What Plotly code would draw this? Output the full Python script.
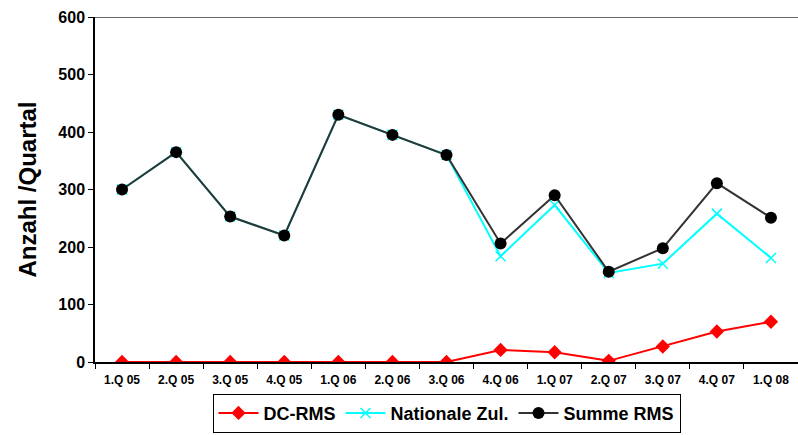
import plotly.graph_objects as go

categories = ["1.Q 05", "2.Q 05", "3.Q 05", "4.Q 05", "1.Q 06", "2.Q 06", "3.Q 06",
              "4.Q 06", "1.Q 07", "2.Q 07", "3.Q 07", "4.Q 07", "1.Q 08"]
dc_rms = [0, 0, 0, 0, 0, 0, 0, 21, 17, 2, 27, 53, 70]
nationale = [300, 365, 253, 220, 430, 395, 360, 184, 273, 155, 171, 258, 181]
summe = [300, 365, 253, 220, 430, 395, 360, 206, 290, 157, 198, 311, 251]
y_ticks = [0, 100, 200, 300, 400, 500, 600]

font_family = "Liberation Sans, Arial, sans-serif"

fig = go.Figure()
fig.add_trace(go.Scatter(
    x=categories, y=dc_rms, name="<b>DC-RMS</b>", mode="lines+markers",
    line=dict(color="#FF0000", width=2),
    marker=dict(symbol="diamond", size=11, color="#FF0000"),
))
fig.add_trace(go.Scatter(
    x=categories, y=nationale, name="<b>Nationale Zul.</b>", mode="lines+markers",
    line=dict(color="#00FFFF", width=2),
    marker=dict(symbol="x-thin", size=10, line=dict(color="#00FFFF", width=1.5), color="#00FFFF"),
))
fig.add_trace(go.Scatter(
    x=categories, y=summe, name="<b>Summe RMS</b>", mode="lines+markers",
    line=dict(color="#333333", width=2),
    marker=dict(symbol="circle", size=12, color="#000000"),
))

fig.add_shape(type="line", xref="paper", yref="y", x0=0, x1=1, y0=600, y1=600,
              line=dict(color="#333333", width=1.5), layer="below")

fig.add_annotation(
    text="<b>Anzahl /Quartal</b>", xref="paper", yref="paper", x=0, y=0.5,
    xanchor="center", yanchor="middle", xshift=-68, textangle=-90, showarrow=False,
    font=dict(size=24, family=font_family, color="#000000"),
)

fig.update_layout(
    width=798, height=435,
    margin=dict(l=95, r=0, t=17, b=73),
    paper_bgcolor="white", plot_bgcolor="white",
    font=dict(family=font_family, color="#000000"),
    showlegend=True,
    legend=dict(
        orientation="h", x=0.5, xanchor="center", y=-0.092, yanchor="top",
        bordercolor="#000000", borderwidth=1, font=dict(size=18, family=font_family),
        itemwidth=40, tracegroupgap=0,
    ),
    xaxis=dict(
        type="category", range=[-0.5, 12.5], automargin=False,
        showline=True, linecolor="#000000", linewidth=1.5,
        ticks="outside", tickson="boundaries", ticklen=5, tickcolor="#000000",
        ticklabelstandoff=6,
        tickfont=dict(size=12, family=font_family),
        tickvals=categories, ticktext=["<b>%s</b>" % c for c in categories],
        showgrid=False, zeroline=False,
    ),
    yaxis=dict(
        range=[0, 600], automargin=False,
        tickvals=y_ticks, ticktext=["<b>%d</b>" % v for v in y_ticks],
        showline=True, linecolor="#000000", linewidth=1.5,
        ticks="outside", ticklen=5, tickcolor="#000000",
        tickfont=dict(size=16, family=font_family),
        showgrid=False, zeroline=False,
    ),
)

fig.write_html(
    "out.html",
    config={"displayModeBar": False},
    post_script="document.body.style.margin='0';document.body.style.overflow='hidden';",
)
